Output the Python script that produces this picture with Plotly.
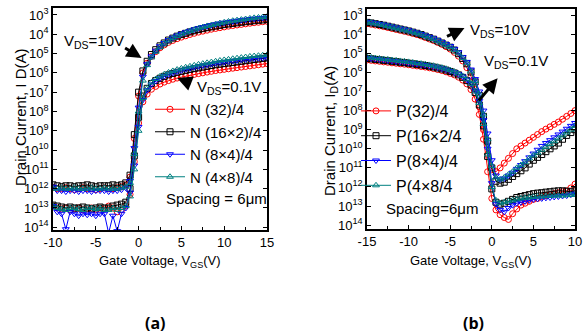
import plotly.graph_objects as go

W, H = 585, 335

# ---------------- data (log10 of drain current, A) ----------------
x_n = [-10, -9.5, -9, -8.5, -8, -7.5, -7, -6.5, -6, -5.5, -5, -4.5, -4, -3.5, -3, -2.5, -2, -1.5,
       -1, -0.5, 0, 0.5, 1, 1.5, 2, 2.5, 3, 3.5, 4, 4.5, 5, 5.5, 6, 6.5, 7, 7.5, 8, 8.5, 9, 9.5,
       10, 10.5, 11, 11.5, 12, 12.5, 13, 13.5, 14, 14.5, 15]

n32_10v = [-11.95, -12.0, -12.0, -11.95, -12.0, -12.05, -12.0, -11.95, -12.0, -12.0, -12.05, -12.0, -11.95, -12.0, -12.0, -11.95, -11.9, -11.8,
           -11.4, -9.4, -7.2, -6.0, -5.5, -5.15, -4.9, -4.7, -4.55, -4.42, -4.32, -4.23, -4.15, -4.08, -4.01, -3.95, -3.89, -3.84,
           -3.79, -3.74, -3.7, -3.66, -3.62, -3.58, -3.55, -3.52, -3.49, -3.46, -3.43, -3.4, -3.38, -3.35, -3.33]
n16_10v = [-11.8, -11.85, -11.9, -11.85, -11.85, -11.9, -11.85, -11.85, -11.8, -11.85, -11.9, -11.85, -11.85, -11.85, -11.8, -11.85, -11.8, -11.7,
           -11.3, -9.2, -7.0, -5.9, -5.4, -5.05, -4.8, -4.6, -4.45, -4.3, -4.2, -4.1, -4.02, -3.95, -3.88, -3.82, -3.76, -3.71,
           -3.66, -3.62, -3.58, -3.54, -3.5, -3.47, -3.44, -3.41, -3.38, -3.35, -3.33, -3.3, -3.28, -3.26, -3.24]
n8_10v = [-11.9, -12.1, -12.1, -12.15, -12.1, -12.1, -12.15, -12.1, -12.1, -12.15, -12.1, -12.1, -12.1, -12.15, -12.1, -12.1, -12.05, -11.95,
          -11.6, -9.9, -7.8, -6.2, -5.55, -5.15, -4.85, -4.62, -4.45, -4.3, -4.18, -4.07, -3.98, -3.9, -3.82, -3.75, -3.69, -3.63,
          -3.58, -3.53, -3.48, -3.44, -3.4, -3.36, -3.33, -3.3, -3.27, -3.24, -3.21, -3.19, -3.17, -3.15, -3.13]
n4_10v = [-12.0, -12.0, -11.95, -12.0, -12.0, -11.95, -12.0, -12.0, -12.0, -11.95, -12.0, -12.0, -11.95, -12.0, -12.0, -12.0, -11.95, -11.9,
          -11.7, -10.2, -8.0, -6.4, -5.6, -5.2, -4.9, -4.65, -4.47, -4.32, -4.2, -4.09, -4.0, -3.91, -3.83, -3.76, -3.69, -3.63,
          -3.57, -3.52, -3.47, -3.42, -3.38, -3.34, -3.3, -3.27, -3.24, -3.21, -3.18, -3.15, -3.13, -3.11, -3.09]

n32_01v = [-12.9, -13.0, -13.05, -13.0, -13.1, -13.05, -13.0, -13.1, -13.05, -13.0, -13.1, -13.0, -13.05, -12.9, -13.0, -13.2, -13.1, -12.9,
           -12.3, -10.6, -8.6, -7.5, -7.1, -6.85, -6.7, -6.58, -6.48, -6.4, -6.33, -6.27, -6.22, -6.17, -6.12, -6.08, -6.04, -6.0,
           -5.96, -5.92, -5.88, -5.85, -5.82, -5.79, -5.76, -5.73, -5.7, -5.67, -5.64, -5.61, -5.58, -5.55, -5.52]
n16_01v = [-12.85, -12.9, -12.95, -13.0, -12.95, -13.0, -13.0, -12.95, -13.0, -13.05, -13.0, -12.95, -13.0, -13.0, -12.9, -12.85, -12.8, -12.7,
           -12.0, -10.3, -8.3, -7.2, -6.8, -6.55, -6.4, -6.28, -6.18, -6.1, -6.03, -5.97, -5.92, -5.87, -5.82, -5.78, -5.74, -5.7,
           -5.66, -5.62, -5.58, -5.55, -5.52, -5.49, -5.46, -5.43, -5.4, -5.37, -5.34, -5.31, -5.28, -5.25, -5.22]
n8_01v = [-12.9, -13.2, -13.3, -14.1, -13.2, -13.3, -13.4, -13.3, -13.35, -13.3, -13.4, -13.3, -13.3, -14.3, -13.4, -14.2, -13.3, -13.0,
          -12.2, -10.8, -8.8, -7.4, -6.9, -6.6, -6.42, -6.28, -6.17, -6.08, -6.0, -5.93, -5.87, -5.81, -5.76, -5.71, -5.66, -5.62,
          -5.58, -5.54, -5.5, -5.47, -5.44, -5.41, -5.38, -5.35, -5.32, -5.3, -5.28, -5.26, -5.24, -5.22, -5.2]
n4_01v = [-12.9, -13.0, -13.05, -13.1, -13.0, -13.0, -13.05, -13.1, -13.0, -13.0, -13.05, -13.0, -13.1, -13.1, -13.0, -13.1, -13.0, -12.9,
          -12.4, -11.0, -9.0, -7.3, -6.8, -6.5, -6.32, -6.18, -6.07, -5.98, -5.9, -5.83, -5.77, -5.71, -5.66, -5.61, -5.56, -5.52,
          -5.48, -5.44, -5.4, -5.36, -5.33, -5.3, -5.27, -5.24, -5.21, -5.18, -5.15, -5.13, -5.11, -5.09, -5.07]

x_p = [-15, -14.5, -14, -13.5, -13, -12.5, -12, -11.5, -11, -10.5, -10, -9.5, -9, -8.5, -8, -7.5, -7, -6.5, -6, -5.5,
       -5, -4.5, -4, -3.5, -3, -2.5, -2, -1.5, -1, -0.5, 0, 0.5, 1, 1.5, 2, 2.5, 3, 3.5, 4, 4.5, 5, 5.5, 6, 6.5, 7, 7.5,
       8, 8.5, 9, 9.5, 10]

p32_10v = [-3.45, -3.48, -3.52, -3.56, -3.6, -3.65, -3.7, -3.75, -3.8, -3.85, -3.9, -3.96, -4.02, -4.09, -4.17, -4.25, -4.33, -4.43, -4.53, -4.65,
           -4.78, -4.95, -5.15, -5.4, -5.75, -6.2, -6.9, -7.8, -9.0, -10.3, -11.1, -11.2, -11.0, -10.75, -10.5, -10.25, -10.0, -9.85, -9.7, -9.55,
           -9.4, -9.25, -9.1, -8.97, -8.85, -8.72, -8.6, -8.45, -8.3, -8.15, -8.0]
p16_10v = [-3.38, -3.41, -3.45, -3.49, -3.53, -3.58, -3.63, -3.68, -3.73, -3.78, -3.83, -3.89, -3.95, -4.02, -4.1, -4.18, -4.26, -4.36, -4.46, -4.57,
           -4.68, -4.83, -5.02, -5.27, -5.55, -5.98, -6.5, -7.2, -8.3, -9.6, -11.0, -11.7, -11.8, -11.75, -11.6, -11.45, -11.3, -11.15, -11.0, -10.8,
           -10.6, -10.45, -10.3, -10.15, -10.0, -9.85, -9.7, -9.5, -9.3, -9.15, -9.0]
p8_10v = [-3.35, -3.38, -3.42, -3.46, -3.5, -3.55, -3.6, -3.65, -3.7, -3.75, -3.8, -3.86, -3.92, -3.99, -4.07, -4.14, -4.22, -4.32, -4.42, -4.52,
          -4.62, -4.77, -4.95, -5.2, -5.45, -5.85, -6.35, -7.0, -8.0, -9.2, -10.6, -11.4, -11.6, -11.55, -11.4, -11.25, -11.05, -10.85, -10.65, -10.45,
          -10.25, -10.05, -9.85, -9.7, -9.55, -9.4, -9.25, -9.1, -8.95, -8.8, -8.65]
p4_10v = [-3.37, -3.4, -3.44, -3.48, -3.52, -3.57, -3.62, -3.67, -3.72, -3.77, -3.82, -3.88, -3.94, -4.01, -4.09, -4.17, -4.25, -4.35, -4.45, -4.56,
          -4.67, -4.82, -5.0, -5.25, -5.52, -5.95, -6.45, -7.15, -8.2, -9.5, -10.9, -11.5, -11.6, -11.5, -11.35, -11.2, -11.0, -10.85, -10.7, -10.5,
          -10.35, -10.2, -10.05, -9.9, -9.75, -9.6, -9.45, -9.3, -9.15, -9.0, -8.8]

p32_01v = [-5.35, -5.37, -5.4, -5.42, -5.45, -5.47, -5.5, -5.52, -5.55, -5.57, -5.6, -5.63, -5.66, -5.69, -5.72, -5.76, -5.8, -5.85, -5.9, -5.97,
           -6.05, -6.13, -6.25, -6.4, -6.6, -6.9, -7.4, -8.2, -9.5, -11.2, -12.6, -13.2, -13.45, -13.6, -13.7, -13.4, -13.15, -12.95, -12.85, -12.75,
           -12.65, -12.6, -12.5, -12.45, -12.4, -12.35, -12.3, -12.25, -12.2, -12.05, -11.85]
p16_01v = [-5.27, -5.29, -5.32, -5.34, -5.37, -5.39, -5.42, -5.44, -5.47, -5.49, -5.52, -5.55, -5.58, -5.61, -5.64, -5.68, -5.72, -5.77, -5.82, -5.88,
           -5.95, -6.03, -6.13, -6.26, -6.43, -6.66, -7.05, -7.7, -8.8, -10.4, -12.1, -12.8, -12.9, -12.85, -12.75, -12.65, -12.55, -12.5, -12.45, -12.4,
           -12.35, -12.32, -12.3, -12.27, -12.25, -12.22, -12.2, -12.2, -12.22, -12.25, -12.2]
p8_01v = [-5.25, -5.27, -5.3, -5.32, -5.35, -5.37, -5.4, -5.42, -5.45, -5.47, -5.5, -5.53, -5.56, -5.59, -5.62, -5.66, -5.7, -5.75, -5.8, -5.86,
          -5.93, -6.0, -6.1, -6.22, -6.38, -6.6, -6.95, -7.5, -8.5, -10.0, -11.8, -12.9, -13.2, -13.3, -13.1, -12.95, -12.85, -12.8, -12.75, -12.7,
          -12.65, -12.62, -12.6, -12.57, -12.55, -12.52, -12.5, -12.47, -12.45, -12.4, -12.35]
p4_01v = [-5.2, -5.22, -5.25, -5.27, -5.3, -5.32, -5.35, -5.37, -5.4, -5.42, -5.45, -5.48, -5.51, -5.54, -5.57, -5.61, -5.65, -5.7, -5.75, -5.81,
          -5.88, -5.96, -6.06, -6.19, -6.36, -6.6, -7.0, -7.6, -8.7, -10.3, -12.0, -12.7, -12.85, -12.8, -12.75, -12.7, -12.65, -12.6, -12.57, -12.55,
          -12.52, -12.5, -12.5, -12.48, -12.47, -12.45, -12.45, -12.45, -12.43, -12.42, -12.4]

n_names = ["N (32)/4", "N (16×2)/4", "N (8×4)/4", "N (4×8)/4"]
p_names = ["P(32)/4", "P(16×2/4", "P(8×4)/4", "P(4×8/4"]
x_ticks_n = [-10, -5, 0, 5, 10, 15]
x_ticks_p = [-15, -10, -5, 0, 5, 10]
y_exps = [3, 4, 5, 6, 7, 8, 9, 10, 11, 12, 13, 14]

colors = ["#ff0000", "#000000", "#0000ff", "#008080"]
symbols = ["circle-open", "square-open", "triangle-down-open", "triangle-up-open"]

n_10v = [n32_10v, n16_10v, n8_10v, n4_10v]
n_01v = [n32_01v, n16_01v, n8_01v, n4_01v]
p_10v = [p32_10v, p16_10v, p8_10v, p4_10v]
p_01v = [p32_01v, p16_01v, p8_01v, p4_01v]

FONT = "Liberation Sans"


def px(v):
    return v / W


def py(v):
    return 1 - v / H


fig = go.Figure()

for panel, (xs, s10, s01, names, xa, ya, lg) in enumerate([
        (x_n, n_10v, n_01v, n_names, "x", "y", "legend"),
        (x_p, p_10v, p_01v, p_names, "x2", "y2", "legend2")]):
    for i in range(4):
        for j, series in enumerate([s10[i], s01[i]]):
            fig.add_trace(go.Scatter(
                x=xs, y=[10 ** v for v in series],
                mode="lines+markers",
                name=names[i],
                legendgroup=f"g{panel}{i}",
                showlegend=(j == 0),
                legend=lg,
                xaxis=xa, yaxis=ya,
                line=dict(color=colors[i], width=1),
                marker=dict(symbol=symbols[i], size=6, color=colors[i],
                            line=dict(width=1, color=colors[i])),
            ))

ytickvals = [10 ** (-e) for e in y_exps]
yticktext = [f"10<sup>{e}</sup>" for e in y_exps]

axis_common = dict(showgrid=False, zeroline=False, showline=True, linecolor="black", linewidth=1.5,
                   ticks="inside", ticklen=4, tickcolor="black", automargin=False,
                   tickfont=dict(family=FONT, size=13, color="black"))

fig.update_layout(
    width=W, height=H,
    margin=dict(l=0, r=0, t=0, b=0, autoexpand=False),
    paper_bgcolor="white", plot_bgcolor="white",
    font=dict(family=FONT, color="black"),
    xaxis=dict(domain=[px(53), px(267)], range=[-10, 15], anchor="y",
               tickvals=x_ticks_n, ticktext=[str(v) for v in x_ticks_n], mirror=True,
               minor=dict(dtick=2.5, ticks="inside", ticklen=3, tickcolor="black"), **axis_common),
    yaxis=dict(domain=[py(230), py(8)], type="log", range=[-14.14, -2.64], anchor="x",
               tickvals=ytickvals, ticktext=yticktext, mirror="ticks", **axis_common),
    xaxis2=dict(domain=[px(367), px(575)], range=[-15, 10], anchor="y2",
                tickvals=x_ticks_p, ticktext=[str(v) for v in x_ticks_p], mirror=True,
                minor=dict(dtick=2.5, ticks="inside", ticklen=3, tickcolor="black"), **axis_common),
    yaxis2=dict(domain=[py(229), py(9)], type="log", range=[-14.2, -2.68], anchor="x2",
                tickvals=ytickvals, ticktext=yticktext, mirror="ticks", **axis_common),
    legend=dict(x=px(150), y=py(93), xanchor="left", yanchor="top", bgcolor="rgba(0,0,0,0)",
                font=dict(family=FONT, size=15, color="black"), tracegroupgap=0,
                traceorder="grouped", itemwidth=30),
    legend2=dict(x=px(356), y=py(94), xanchor="left", yanchor="top", bgcolor="rgba(0,0,0,0)",
                 font=dict(family=FONT, size=16, color="black"), tracegroupgap=1,
                 traceorder="grouped", itemwidth=30),
)

ann = []


def label(x, y, text, size=15, family=FONT, angle=0):
    ann.append(dict(x=px(x), y=py(y), xref="paper", yref="paper", showarrow=False,
                    xanchor="center", yanchor="middle", textangle=angle,
                    text=text, font=dict(size=size, family=family, color="black")))


# axis titles
label(160, 261, "Gate Voltage, V<sub>GS</sub>(V)", 13)
label(471, 261, "Gate Voltage, V<sub>GS</sub>(V)", 13)
label(21, 117, "Drain Current, I D(A)", 15, angle=-90)
label(331, 131, "Drain Current, I<sub>D</sub>(A)", 15, angle=-90)
# panel labels
label(155, 323, "<b>(a)</b>", 16, "Open Sans")
label(473, 323, "<b>(b)</b>", 16, "Open Sans")
# spacing labels
label(216, 198, "Spacing = 6μm")
label(432, 208, "Spacing=6μm")
# VDS labels
label(94, 41, "V<sub>DS</sub>=10V")
label(229, 87, "V<sub>DS</sub>=0.1V")
label(500, 31, "V<sub>DS</sub>=10V")
label(516, 61, "V<sub>DS</sub>=0.1V")

# arrows (head position in axis units, tail offset in pixels)
arrow = dict(text="", showarrow=True, arrowhead=2, arrowsize=1, arrowwidth=3, arrowcolor="black",
             axref="pixel", ayref="pixel")
ann.append(dict(x=0.35, y=-5.23, xref="x", yref="y", ax=-18, ay=-11, **arrow))
ann.append(dict(x=4.5, y=-6.26, xref="x", yref="y", ax=15, ay=6, **arrow))
ann.append(dict(x=-3.28, y=-3.68, xref="x2", yref="y2", ax=-19, ay=9, **arrow))
ann.append(dict(x=0.7, y=-6.3, xref="x2", yref="y2", ax=-20, ay=24, **arrow))

fig.update_layout(annotations=ann)

fig.write_html("out.html",
               config={"displayModeBar": False},
               post_script="document.body.style.margin='0';document.body.style.padding='0';")
